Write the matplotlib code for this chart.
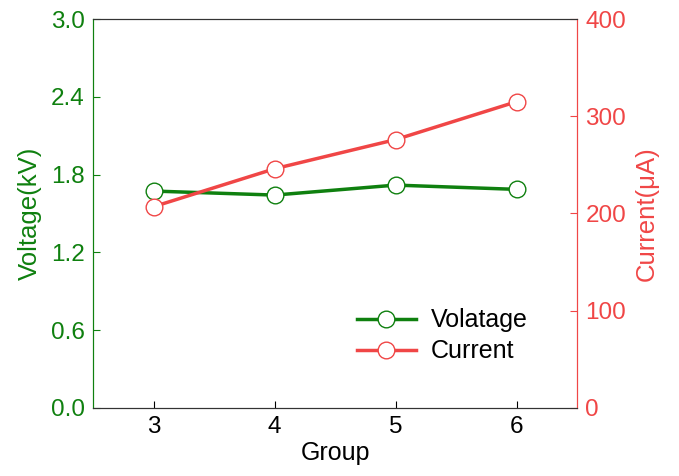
import matplotlib
matplotlib.use('agg')
import matplotlib.pyplot as plt

plt.rcParams['font.family'] = ['Liberation Sans', 'DejaVu Sans']

groups = [3, 4, 5, 6]
voltage = [1.673, 1.642, 1.719, 1.686]
current = [207, 246, 276, 315]

GREEN = '#0f800f'
RED = '#f04646'

fig = plt.figure(figsize=(6.79, 4.76), dpi=100)
ax = fig.add_axes([0.137, 0.143, 0.713, 0.817])
ax2 = ax.twinx()

l1, = ax.plot(groups, voltage, color=GREEN, lw=2.5, marker='o', ms=12,
              mfc='white', mec=GREEN, mew=1.0, label='Volatage')
l2, = ax2.plot(groups, current, color=RED, lw=2.5, marker='o', ms=12,
               mfc='white', mec=RED, mew=1.0, label='Current')

ax.set_xlim(2.5, 6.5)
ax.set_ylim(0, 3.0)
ax2.set_ylim(0, 400)
ax.set_xticks(groups)
ax.set_yticks([0.0, 0.6, 1.2, 1.8, 2.4, 3.0])
ax.set_yticklabels(['0.0', '0.6', '1.2', '1.8', '2.4', '3.0'])
ax2.set_yticks([0, 100, 200, 300, 400])

ax.tick_params(axis='x', direction='in', length=5, labelsize=17.5, pad=6)
ax.tick_params(axis='y', direction='in', length=5, labelsize=17.5, colors=GREEN, pad=6)
ax2.tick_params(axis='y', direction='in', length=5, labelsize=17.5, colors=RED, pad=6)

ax.set_xlabel('Group', fontsize=18, labelpad=2)
ax.set_ylabel('Voltage(kV)', fontsize=18.5, color=GREEN, labelpad=6)
ax2.set_ylabel('Current(μA)', fontsize=18.5, color=RED, labelpad=6)

for a in (ax, ax2):
    a.spines['left'].set_color(GREEN)
    a.spines['right'].set_color(RED)
    a.spines['top'].set_color('#333333')
    a.spines['bottom'].set_color('#333333')

ax2.legend([l1, l2], ['Volatage', 'Current'], loc='center',
           bbox_to_anchor=(0.721, 0.185), frameon=False, fontsize=18,
           handlelength=2.35, handletextpad=0.6, labelspacing=0.28)

fig.savefig('out.png', dpi=100)
